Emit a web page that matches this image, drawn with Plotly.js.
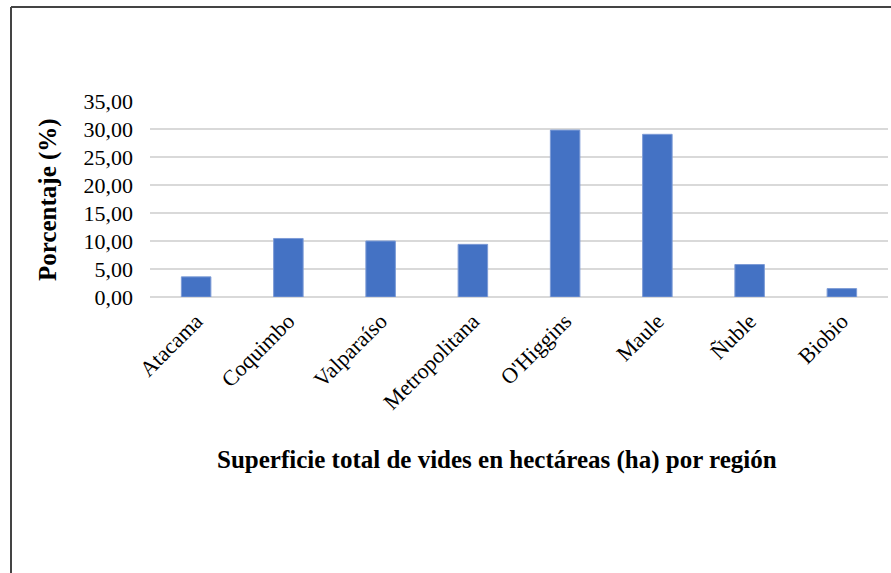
<!DOCTYPE html>
<html>
<head>
<meta charset="utf-8">
<script src="https://cdn.plot.ly/plotly-3.0.1.min.js"></script>
<style>
  html, body { margin: 0; padding: 0; background: #fff; }
  #chart { width: 891px; height: 573px; }
</style>
</head>
<body>
<div id="chart"></div>
<script>
const regions = ["Atacama", "Coquimbo", "Valparaíso", "Metropolitana", "O'Higgins", "Maule", "Ñuble", "Biobio"];
const percentages = [3.6, 10.45, 10.0, 9.4, 29.8, 29.05, 5.8, 1.5];
const yTickValues = [0, 5, 10, 15, 20, 25, 30, 35];
const yTickLabels = ["0,00", "5,00", "10,00", "15,00", "20,00", "25,00", "30,00", "35,00"];
const xAxisTitle = "Superficie total de vides en hectáreas (ha) por región";
const yAxisTitle = "Porcentaje (%)";

const W = 891, H = 573;
const M = { l: 150, r: 3, t: 101, b: 276 };
const plotW = W - M.l - M.r, plotH = H - M.t - M.b;
const px = x => (x - M.l) / plotW;
const py = y => (H - M.b - y) / plotH;

const serif = "'Liberation Serif', 'Times New Roman', serif";

const data = [{
  type: 'bar',
  x: regions,
  y: percentages,
  marker: { color: '#4472c4', line: { color: '#7d9bd6', width: 1 } },
  hoverinfo: 'x+y'
}];

const layout = {
  width: W, height: H,
  margin: M,
  paper_bgcolor: '#ffffff',
  plot_bgcolor: '#ffffff',
  showlegend: false,
  bargap: 0.68,
  font: { family: serif, color: '#000', size: 21 },
  xaxis: {
    type: 'category',
    tickangle: -45,
    showgrid: false,
    showline: false,
    ticks: '',
    ticklabelstandoff: 6,
    tickfont: { family: serif, size: 22, color: '#000' },
    automargin: false
  },
  yaxis: {
    range: [0, 35],
    tickvals: yTickValues,
    ticktext: yTickLabels,
    showgrid: true,
    gridcolor: '#d9d9d9',
    gridwidth: 2,
    zeroline: true,
    zerolinecolor: '#d9d9d9',
    zerolinewidth: 2,
    showline: false,
    ticks: '',
    ticklabelstandoff: 16,
    tickfont: { family: serif, size: 22, color: '#000' },
    automargin: false
  },
  annotations: [{
    xref: 'paper', yref: 'paper',
    x: px(497), y: py(460),
    xanchor: 'center', yanchor: 'middle',
    text: '<b>' + xAxisTitle + '</b>',
    showarrow: false,
    font: { family: serif, size: 25, color: '#000' }
  }, {
    xref: 'paper', yref: 'paper',
    x: px(48), y: py(200),
    xanchor: 'center', yanchor: 'middle',
    textangle: -90,
    text: '<b>' + yAxisTitle + '</b>',
    showarrow: false,
    font: { family: serif, size: 25, color: '#000' }
  }],
  shapes: [
    { type: 'line', xref: 'paper', yref: 'paper', x0: px(11), x1: px(11), y0: py(7), y1: py(H + 5), line: { color: '#444', width: 2 } },
    { type: 'line', xref: 'paper', yref: 'paper', x0: px(11), x1: px(W + 5), y0: py(7), y1: py(7), line: { color: '#444', width: 2 } }
  ]
};

Plotly.newPlot('chart', data, layout, { displayModeBar: false, staticPlot: true });
</script>
</body>
</html>
